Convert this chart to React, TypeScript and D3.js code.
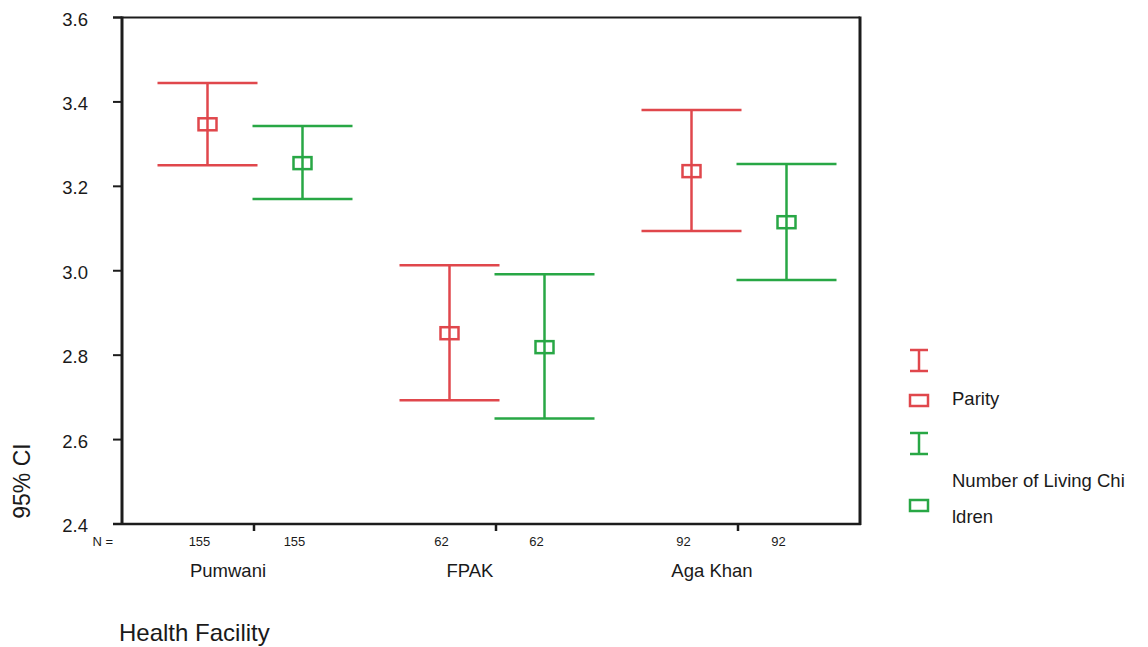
import React from "react";
import * as d3 from "d3";

const facilities = ["Pumwani", "FPAK", "Aga Khan"];
const seriesNames = ["Parity", "Number of Living Children"];
const counts = [
  [155, 155],
  [62, 62],
  [92, 92],
];
const parityMean = [3.347, 2.852, 3.236];
const parityLow = [3.25, 2.693, 3.094];
const parityHigh = [3.445, 3.013, 3.381];
const livingMean = [3.255, 2.819, 3.115];
const livingLow = [3.17, 2.65, 2.978];
const livingHigh = [3.343, 2.992, 3.253];
const yTicks = [2.4, 2.6, 2.8, 3.0, 3.2, 3.4, 3.6];

const RED = "#e0474c";
const GREEN = "#28a745";
const AXIS = "#1c1c1c";
const TEXT = "#1a1a1a";
const FONT = "'Liberation Sans', Arial, Helvetica, sans-serif";

export default function App() {
  const left = 122;
  const right = 860;
  const top = 17.5;
  const bottom = 524;
  const y = d3.scaleLinear().domain([2.4, 3.6]).range([bottom, top]);
  const x = d3.scaleBand().domain(facilities).range([133, 859]).padding(0);
  const inner = d3.scaleBand().domain(seriesNames).range([-94, 96]).padding(0);
  const capHalf = 50;
  const sqW = 18;
  const sqH = 12;

  const series = [
    { name: seriesNames[0], color: RED, mean: parityMean, lo: parityLow, hi: parityHigh },
    { name: seriesNames[1], color: GREEN, mean: livingMean, lo: livingLow, hi: livingHigh },
  ];

  const center = (f: string) => (x(f) as number) + x.bandwidth() / 2;
  const sx = (f: string, s: string) => center(f) + (inner(s) as number) + inner.bandwidth() / 2;

  return (
    <svg
      width={1148}
      height={647}
      style={{ position: "absolute", left: 0, top: 0, background: "#fff" }}
      fontFamily={FONT}
    >
      <rect x={0} y={0} width={1148} height={647} fill="#fff" />
      {/* frame */}
      <line x1={113} x2={right} y1={top} y2={top} stroke={AXIS} strokeWidth={2} />
      <line x1={113} x2={right + 1} y1={bottom} y2={bottom} stroke={AXIS} strokeWidth={2.5} />
      <line x1={left} x2={left} y1={top - 1} y2={bottom} stroke={AXIS} strokeWidth={3} />
      <line x1={right} x2={right} y1={top - 1} y2={bottom + 1} stroke={AXIS} strokeWidth={3} />
      {/* y ticks */}
      {yTicks.map((t) => (
        <g key={t}>
          <line x1={113} x2={left} y1={y(t)} y2={y(t)} stroke={AXIS} strokeWidth={2} />
          <text x={88} y={y(t) + 8} textAnchor="end" fontSize={18.5} fill={TEXT}>
            {d3.format(".1f")(t)}
          </text>
        </g>
      ))}
      <text
        transform={`translate(30, 481) rotate(-90)`}
        textAnchor="middle"
        fontSize={23}
        fill={TEXT}
      >
        95% CI
      </text>
      {/* x ticks and labels */}
      {facilities.map((f, i) => (
        <g key={f}>
          <line x1={center(f)} x2={center(f)} y1={bottom} y2={bottom + 7} stroke={AXIS} strokeWidth={2.5} />
          <text x={center(f) - 26} y={577} textAnchor="middle" fontSize={18.5} fill={TEXT}>
            {f}
          </text>
          {seriesNames.map((s, j) => (
            <text key={s} x={sx(f, s) - 8} y={546} textAnchor="middle" fontSize={13} fill={TEXT}>
              {counts[i][j]}
            </text>
          ))}
        </g>
      ))}
      <text x={113} y={546} textAnchor="end" fontSize={13} fill={TEXT}>
        N =
      </text>
      <text x={119} y={641} fontSize={24} fill={TEXT}>
        Health Facility
      </text>
      {/* error bars */}
      {series.map((s) =>
        facilities.map((f, i) => {
          const cx = sx(f, s.name);
          return (
            <g key={s.name + f} stroke={s.color} strokeWidth={2.5} fill="none">
              <line x1={cx} x2={cx} y1={y(s.hi[i])} y2={y(s.lo[i])} />
              <line x1={cx - capHalf} x2={cx + capHalf} y1={y(s.hi[i])} y2={y(s.hi[i])} />
              <line x1={cx - capHalf} x2={cx + capHalf} y1={y(s.lo[i])} y2={y(s.lo[i])} />
              <rect x={cx - sqW / 2} y={y(s.mean[i]) - sqH / 2} width={sqW} height={sqH} />
            </g>
          );
        })
      )}
      {/* legend */}
      <g stroke={RED} strokeWidth={2.5} fill="none">
        <line x1={919} x2={919} y1={350} y2={371} />
        <line x1={910} x2={928} y1={350} y2={350} />
        <line x1={910} x2={928} y1={371} y2={371} />
        <rect x={910} y={395} width={18} height={11} />
      </g>
      <g stroke={GREEN} strokeWidth={2.5} fill="none">
        <line x1={919} x2={919} y1={433} y2={454} />
        <line x1={910} x2={928} y1={433} y2={433} />
        <line x1={910} x2={928} y1={454} y2={454} />
        <rect x={910} y={500} width={18} height={11} />
      </g>
      <text x={952} y={405} fontSize={18.5} fill={TEXT}>
        {seriesNames[0]}
      </text>
      <text x={952} y={487} fontSize={18.5} fill={TEXT}>
        Number of Living Chi
      </text>
      <text x={952} y={523} fontSize={18.5} fill={TEXT}>
        ldren
      </text>
    </svg>
  );
}
